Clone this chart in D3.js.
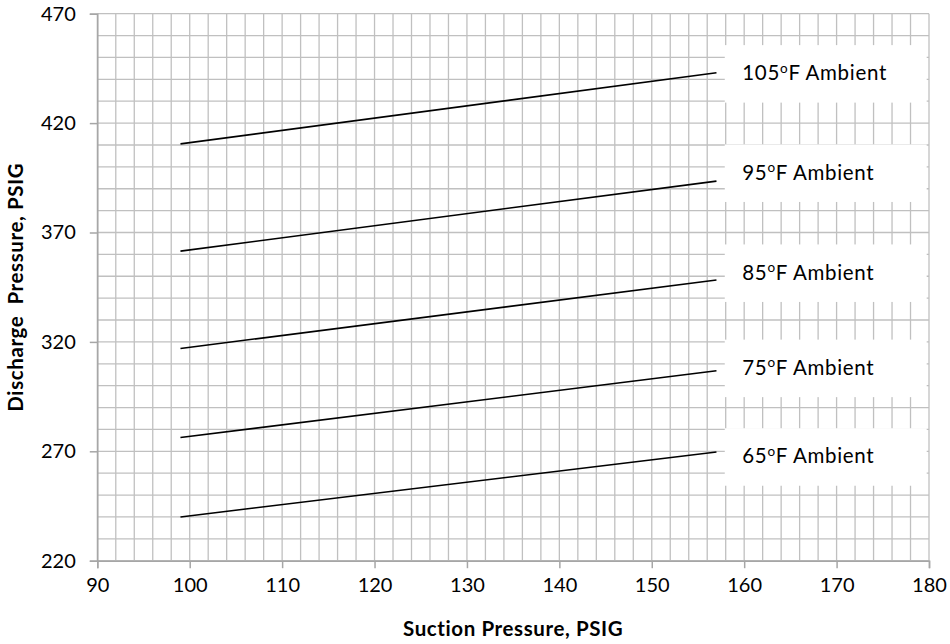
<!DOCTYPE html>
<html>
<head>
<meta charset="utf-8">
<script src="https://cdn.jsdelivr.net/npm/d3@7"></script>
<style>
  html, body { margin: 0; padding: 0; background: #fff; }
  svg { display: block; font-family: Lato, "Open Sans", sans-serif; }
</style>
</head>
<body>
<svg id="chart" width="950" height="644"></svg>
<script>
// ---- data ----
const suction = [99, 157];
const seriesNames = ["105", "95", "85", "75", "65"];
const discharge105 = [410.5, 443.0];
const discharge95 = [361.5, 393.5];
const discharge85 = [317.0, 348.3];
const discharge75 = [276.3, 306.8];
const discharge65 = [240.0, 269.7];
const labelTexts = ["105", "95", "85", "75", "65"];
const labelAt = [442.5, 397.1, 351.4, 307.9, 267.4];
const xTicks = [90, 100, 110, 120, 130, 140, 150, 160, 170, 180];
const yTicks = [220, 270, 320, 370, 420, 470];
const xTitle = "Suction Pressure, PSIG";
const yTitle = "Discharge  Pressure, PSIG";

const allSeries = [discharge105, discharge95, discharge85, discharge75, discharge65];

const W = 950, H = 644;
const m = { left: 97.3, right: 21, top: 13.7, bottom: 83.3 };
const svg = d3.select("#chart");
const x = d3.scaleLinear().domain([90, 180]).range([m.left, W - m.right]);
const y = d3.scaleLinear().domain([220, 470]).range([H - m.bottom, m.top]);

const grid = svg.append("g");
grid.selectAll("line.v").data(d3.range(90, 180.01, 2)).join("line")
  .attr("x1", d => x(d)).attr("x2", d => x(d))
  .attr("y1", y(220)).attr("y2", y(470))
  .attr("stroke", "#c0c0c0").attr("stroke-width", 1.3);
grid.selectAll("line.h").data(d3.range(220, 470.01, 10)).join("line")
  .attr("x1", x(90)).attr("x2", x(180))
  .attr("y1", d => y(d)).attr("y2", d => y(d))
  .attr("stroke", "#c0c0c0").attr("stroke-width", 1.3);

// axes
const xAxis = svg.append("g").attr("transform", `translate(0,${y(220)})`)
  .call(d3.axisBottom(x).tickValues(xTicks).tickSize(7.5).tickPadding(10).tickFormat(d3.format("d")));
const yAxis = svg.append("g").attr("transform", `translate(${x(90)},0)`)
  .call(d3.axisLeft(y).tickValues(yTicks).tickSize(7.5).tickPadding(14).tickFormat(d3.format("d")));
[xAxis, yAxis].forEach(a => {
  a.select(".domain").attr("stroke", "#a6a6a6").attr("stroke-width", 1.5);
  a.selectAll(".tick line").attr("stroke", "#a6a6a6").attr("stroke-width", 1.5);
  a.selectAll(".tick text").attr("fill", "#000").style("font-size", "20px").style("font-family", "Lato, sans-serif");
});

// lines
const line = d3.line().x((d, i) => x(suction[i])).y(d => y(d));
svg.append("g").selectAll("path").data(allSeries).join("path")
  .attr("d", d => line(d))
  .attr("fill", "none").attr("stroke", "#000").attr("stroke-width", 1.6);

// label boxes
const boxH = 57.5;
const lab = svg.append("g").selectAll("g").data(labelTexts).join("g")
  .attr("transform", (d, i) => `translate(${x(157.9)},${y(labelAt[i]) - boxH / 2})`);
lab.append("rect").attr("width", x(179.75) - x(157.9)).attr("height", boxH).attr("fill", "#fff");
const t = lab.append("text").attr("x", 17.5).attr("y", boxH / 2 + 6.5)
  .style("font-size", "20.5px").attr("fill", "#000").style("letter-spacing", "0.7px");
t.append("tspan").text(d => d);
t.append("tspan").text("o").style("font-size", "13.5px").attr("dy", "-7.5");
t.append("tspan").text("F").attr("dy", "7.5");
t.append("tspan").text(" Ambient");

// titles
svg.append("text").attr("x", (x(90) + x(180)) / 2).attr("y", 636)
  .attr("text-anchor", "middle").style("font-weight", "bold").style("font-size", "20.5px")
  .style("letter-spacing", "0.6px").text(xTitle);
svg.append("text").attr("transform", `translate(23,${(y(220) + y(470)) / 2}) rotate(-90)`)
  .attr("text-anchor", "middle").style("font-weight", "bold").style("font-size", "20.5px")
  .style("letter-spacing", "0.6px").style("white-space", "pre").text(yTitle);
</script>
</body>
</html>
